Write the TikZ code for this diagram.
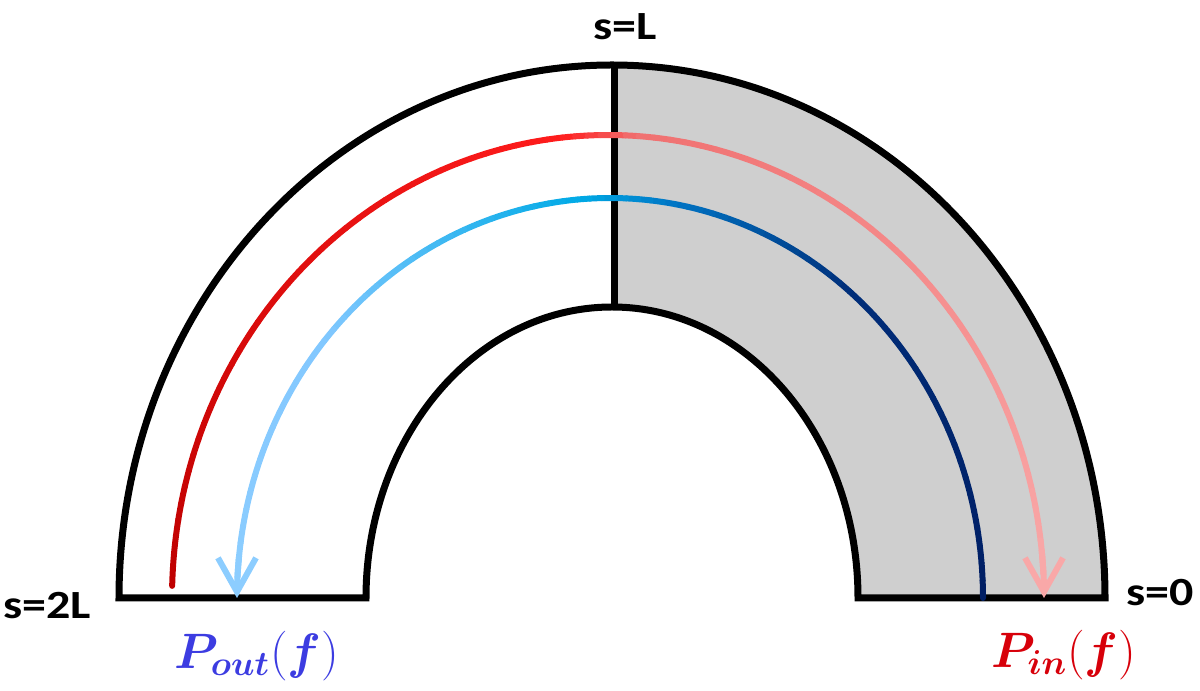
\documentclass[tikz,border=0pt]{standalone}
\usepackage{fontspec}
\usepackage{bm}
\usepackage{graphicx}
\newfontfamily\lblfont{Carlito}
\usetikzlibrary{calc,arrows.meta}
\definecolor{greyfill}{RGB}{207,207,207}
\definecolor{rA}{RGB}{190,0,0}
\definecolor{rB}{RGB}{255,28,28}
\definecolor{rC}{RGB}{240,112,112}
\definecolor{rD}{RGB}{249,168,168}
\definecolor{bA}{RGB}{0,30,100}
\definecolor{bB}{RGB}{0,45,120}
\definecolor{bC}{RGB}{0,115,195}
\definecolor{bD}{RGB}{0,170,230}
\definecolor{bE}{RGB}{130,200,255}
\definecolor{bF}{RGB}{140,205,255}
\definecolor{pblue}{RGB}{60,60,225}
\definecolor{pred}{RGB}{215,0,10}
\newcommand\gradarc[8]{%
 \foreach \k in {1,...,#8}{%
  \pgfmathsetmacro\gA{#4+(#5-#4)*(\k-1)/#8}%
  \pgfmathsetmacro\gB{#4+(#5-#4)*\k/#8}%
  \pgfmathsetmacro\gP{100*(\k-0.5)/#8}%
  \colorlet{segc}{#7!\gP!#6}%
  \draw[segc, colline] ($(#1)+(\gA:#2 and #3)$) arc[start angle=\gA, end angle=\gB, x radius=#2, y radius=#3];%
 }}
\begin{document}
\begin{tikzpicture}[x=0.5pt,y=0.5pt,
 outline/.style={line width=3.5pt, line join=miter},
 colline/.style={line width=3pt, line cap=round},
 tipline/.style={line width=3pt, line cap=butt, -{Straight Barb[length=17pt,width=19pt]}},
 slabel/.style={font=\lblfont\bfseries\fontsize{20}{24}\selectfont, inner sep=0pt},
 plabel/.style={font=\fontsize{24.5}{28}\selectfont, inner sep=0pt}]
\useasboundingbox (0,0) rectangle (1200,691);
\coordinate (C) at (612,93);
\coordinate (Cr) at (608,93);
\coordinate (Cb) at (610,93);
% grey right half
\fill[greyfill] ($(C)+(0,533)$) arc[start angle=90,end angle=0,x radius=493,y radius=533]
  -- ($(C)+(246,0)$) arc[start angle=0,end angle=90,x radius=246,y radius=291] -- cycle;
% outline
\draw[outline] ($(C)+(-493,0)$) arc[start angle=180,end angle=0,x radius=493,y radius=533]
  -- ($(C)+(246,0)$) arc[start angle=0,end angle=180,x radius=246,y radius=291] -- cycle;
\draw[outline] ($(C)+(2,533)$) -- ($(C)+(2,291)$);
% red path (left to right)
\gradarc{Cr}{436}{463}{178.5}{96}{rA}{rB}{40}
\gradarc{Cr}{436}{463}{96}{86}{rB}{rC}{6}
\gradarc{Cr}{436}{463}{86}{3}{rC}{rD}{40}
\draw[tipline, rD] ($(Cr)+(6:436 and 463)$) arc[start angle=6,end angle=0,x radius=436,y radius=463];
% blue path (right to left)
\gradarc{Cb}{373}{400}{0}{50}{bA}{bB}{20}
\gradarc{Cb}{373}{400}{50}{80}{bB}{bC}{15}
\gradarc{Cb}{373}{400}{80}{95}{bC}{bD}{8}
\gradarc{Cb}{373}{400}{95}{140}{bD}{bE}{20}
\gradarc{Cb}{373}{400}{140}{177}{bE}{bF}{15}
\draw[tipline, bF] ($(Cb)+(174:373 and 400)$) arc[start angle=174,end angle=180,x radius=373,y radius=400];
% labels
\node[slabel] (sL) at (625,664) {\scalebox{1.2}[1]{s=L}};
\node[slabel] (s2L) at (47,85) {\scalebox{1.2}[1]{s=2L}};
\node[slabel] (s0) at (1160,98) {\scalebox{1.2}[1]{s=0}};
\node[plabel, text=pblue] (pout) at (257,35) {$\bm{P}_{\bm{out}}(\bm{f})$};
\node[plabel, text=pred] (pin) at (1064,36) {$\bm{P}_{\bm{in}}(\bm{f})$};
\end{tikzpicture}
\end{document}
